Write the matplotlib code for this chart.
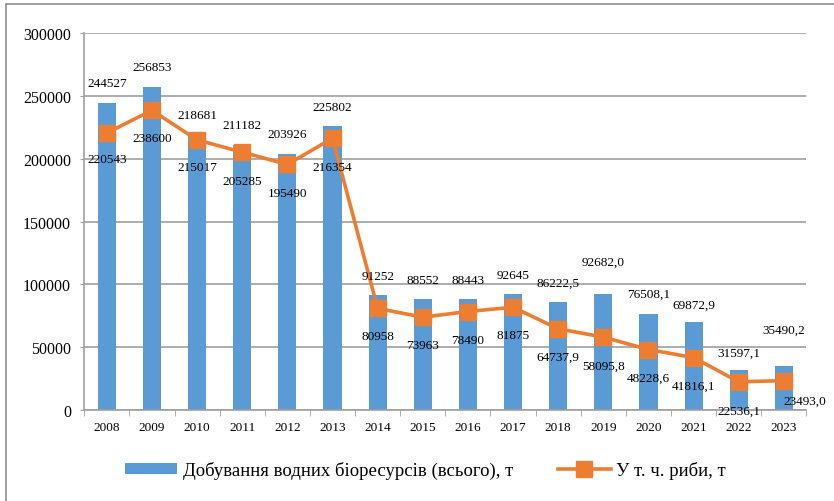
import numpy as np
import matplotlib.pyplot as plt
from matplotlib.patches import Rectangle

plt.rcParams['font.family'] = ['Liberation Serif', 'DejaVu Serif']

years = ['2008', '2009', '2010', '2011', '2012', '2013', '2014', '2015',
         '2016', '2017', '2018', '2019', '2020', '2021', '2022', '2023']
total = [244527, 256853, 218681, 211182, 203926, 225802, 91252, 88552,
         88443, 92645, 86222.5, 92682.0, 76508.1, 69872.9, 31597.1, 35490.2]
fish = [220543, 238600, 215017, 205285, 195490, 216354, 80958, 73963,
        78490, 81875, 64737.9, 58095.8, 48228.6, 41816.1, 22536.1, 23493.0]
total_lbl = ['244527', '256853', '218681', '211182', '203926', '225802', '91252', '88552',
             '88443', '92645', '86222,5', '92682,0', '76508,1', '69872,9', '31597,1', '35490,2']
fish_lbl = ['220543', '238600', '215017', '205285', '195490', '216354', '80958', '73963',
            '78490', '81875', '64737,9', '58095,8', '48228,6', '41816,1', '22536,1', '23493,0']

# label offsets in pixels
total_dy = [20, 20, 20, 20, 20, 19, 19, 19, 19, 19, 19, 32, 20, 18, 18, 36]
fish_dy = [-26, -28, -27, -29, -29, -29, -28, -28, -28, -28, -28, -29, -28, -28, -29, -20]
fish_dx = [0] * 15 + [21]

blue = '#5B9BD5'
orange = '#ED7D31'

fig = plt.figure(figsize=(8.34, 5.02), dpi=100)
ax = fig.add_axes([0.101, 0.181, 0.866, 0.751])

x = np.arange(len(years))
bars = ax.bar(x, total, width=0.4, color=blue, zorder=2)
line, = ax.plot(x, fish, color=orange, lw=2.6, marker='s', ms=12, zorder=3)

for i in range(len(years)):
    ax.annotate(total_lbl[i], (x[i], total[i]), xytext=(0, total_dy[i]), textcoords='offset pixels',
                ha='center', va='center', fontsize=9.5, zorder=4)
    ax.annotate(fish_lbl[i], (x[i], fish[i]), xytext=(fish_dx[i], fish_dy[i]), textcoords='offset pixels',
                ha='center', va='center', fontsize=9.5, zorder=4)

ax.set_xlim(-0.5, len(years) - 0.5)
ax.set_ylim(0, 300000)
ax.set_yticks(np.arange(0, 300001, 50000))
ax.set_xticks(x)
ax.set_xticklabels(years, fontsize=9.5)
ax.set_xticks(np.arange(-0.5, len(years), 1), minor=True)
ax.tick_params(axis='x', which='major', length=0, pad=8)
ax.tick_params(axis='x', which='minor', length=4, color='#A0A0A0')
ax.tick_params(axis='y', labelsize=11.5, length=3, pad=6.5, color='#A0A0A0')
ax.grid(axis='y', color='#A0A0A0', lw=1.2, zorder=0)
for s in ['top', 'right']:
    ax.spines[s].set_visible(False)
for s in ['left', 'bottom']:
    ax.spines[s].set_color('#A0A0A0')
    ax.spines[s].set_linewidth(1.2)

fig.legend([bars, line], ['Добування водних біоресурсів (всього), т', 'У т. ч. риби, т'],
           loc='center', bbox_to_anchor=(0.51, 0.062), ncol=2, frameon=False,
           fontsize=13.5, columnspacing=2.4, handlelength=2.8, handleheight=0.55,
           handletextpad=0.3)

fig.patches.append(Rectangle((5.5 / 834, -0.1), 1.1, 1.1 - 4.5 / 502, transform=fig.transFigure,
                             fill=False, edgecolor='#909090', lw=1.2))

fig.savefig('out.png', dpi=100)
